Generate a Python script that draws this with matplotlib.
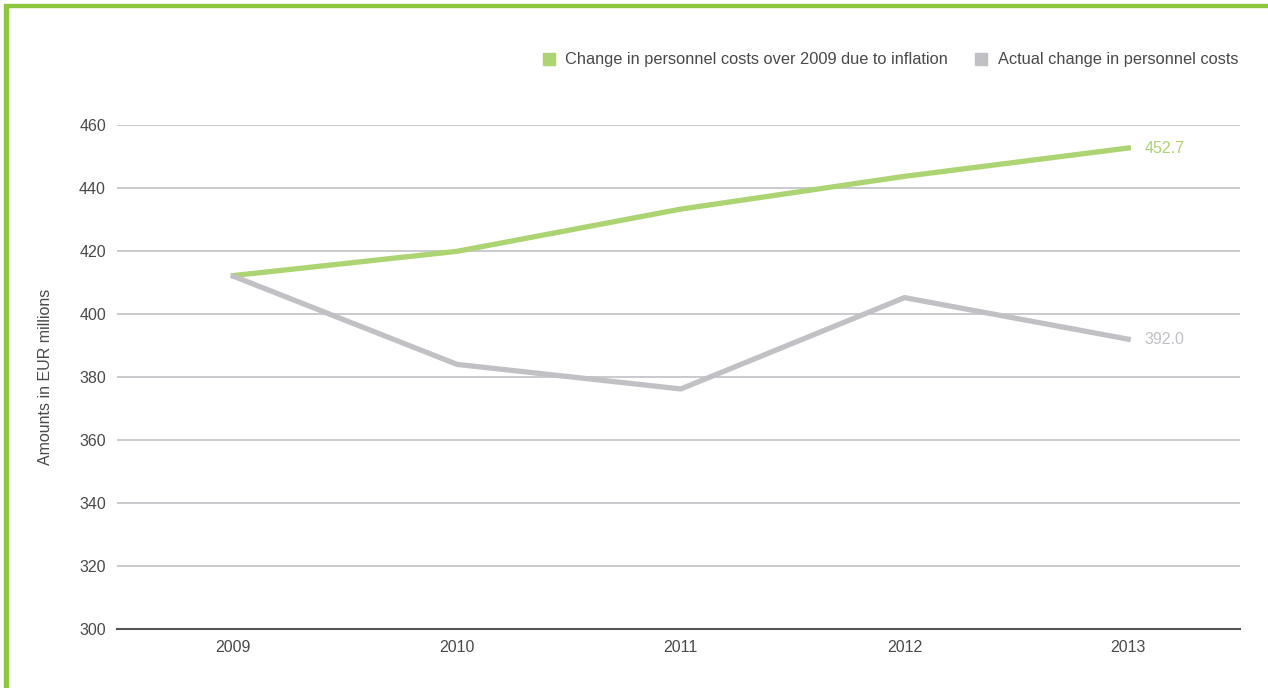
import matplotlib.pyplot as plt
from matplotlib.lines import Line2D
from matplotlib.patches import Rectangle

# Data
years = ["2009", "2010", "2011", "2012", "2013"]
inflation_costs = [412.2, 419.9, 433.3, 443.7, 452.7]
actual_costs = [412.0, 384.0, 376.2, 405.2, 392.0]
y_ticks = [300, 320, 340, 360, 380, 400, 420, 440, 460]

green = "#acd473"
grey = "#c1c1c5"
text_color = "#4a4a4a"

plt.rcParams['font.family'] = ['Liberation Sans', 'DejaVu Sans']

fig = plt.figure(figsize=(12.68, 6.88), dpi=100)

# green frame on left and top
fig.patches.append(Rectangle((0.0035, -0.01), 0.0025, 1.0, transform=fig.transFigure,
                             color="#8dc63f", zorder=5))
fig.patches.append(Rectangle((0.0035, 0.9895), 1.0, 0.0045, transform=fig.transFigure,
                             color="#8dc63f", zorder=5))

ax = fig.add_axes([0.0923, 0.0858, 0.8857, 0.7325])

x = list(range(len(years)))
ax.plot(x, inflation_costs, color=green, linewidth=3.8, solid_joinstyle='miter', zorder=3)
ax.plot(x, actual_costs, color=grey, linewidth=3.8, solid_joinstyle='miter', zorder=3)

# end labels
ax.annotate(f"{inflation_costs[-1]:.1f}", (x[-1], inflation_costs[-1]), xytext=(12, 0),
            textcoords="offset points", color=green, fontsize=11.5, va="center")
ax.annotate(f"{actual_costs[-1]:.1f}", (x[-1], actual_costs[-1]), xytext=(12, 0),
            textcoords="offset points", color=grey, fontsize=11.5, va="center")

ax.set_xlim(-0.52, 4.5)
ax.set_ylim(300, 460)
ax.set_xticks(x)
ax.set_xticklabels(years)
ax.set_yticks(y_ticks)
ax.tick_params(axis='both', length=0, labelsize=11.5, colors=text_color)
ax.tick_params(axis='x', pad=8)
ax.tick_params(axis='y', pad=8)

for v in y_ticks[1:]:
    ax.axhline(v, color="#b9bcc0", linewidth=1.1, zorder=1)

for s in ["top", "right", "left"]:
    ax.spines[s].set_visible(False)
ax.spines["bottom"].set_color("#555555")
ax.spines["bottom"].set_linewidth(1.5)

ax.set_ylabel("Amounts in EUR millions", fontsize=11.5, color=text_color, labelpad=19)

handles = [
    Line2D([], [], marker='s', linestyle='none', color=green, markersize=8),
    Line2D([], [], marker='s', linestyle='none', color=grey, markersize=8),
]
labels = ["Change in personnel costs over 2009 due to inflation",
          "Actual change in personnel costs"]
leg = fig.legend(handles, labels, loc="center right", bbox_to_anchor=(0.988, 0.913),
                 ncol=2, frameon=False, fontsize=11.8, handletextpad=0.5,
                 columnspacing=1.5, handlelength=1.0)
for t in leg.get_texts():
    t.set_color(text_color)

fig.savefig("out.png", dpi=100)
